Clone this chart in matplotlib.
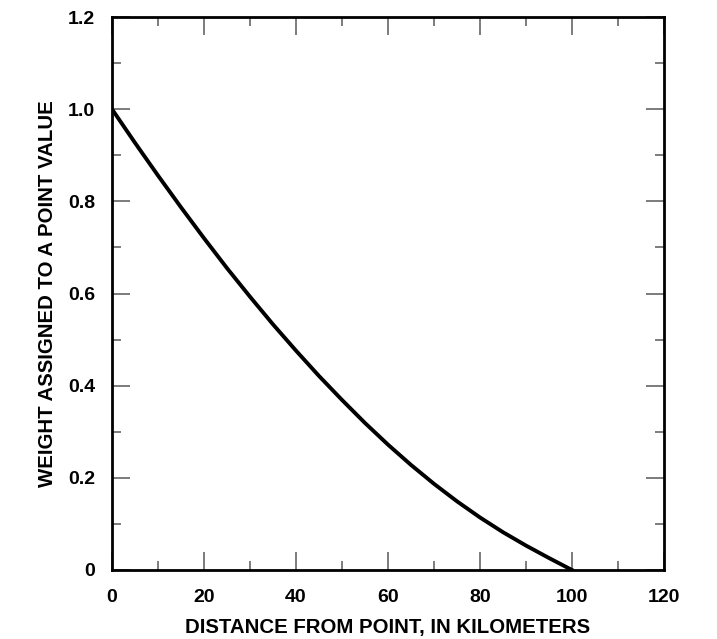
import matplotlib
matplotlib.use("Agg")
import matplotlib.pyplot as plt
from matplotlib.ticker import MultipleLocator

distance_km = [0, 5, 10, 15, 20, 25, 30, 35, 40, 45, 50, 55, 60, 65, 70, 75, 80, 85, 90, 95, 100]
weight = [1.000, 0.927, 0.856, 0.787, 0.720, 0.655, 0.593, 0.533, 0.476, 0.421, 0.369,
          0.319, 0.272, 0.228, 0.187, 0.149, 0.114, 0.082, 0.053, 0.026, 0.000]
x_ticks = [0, 20, 40, 60, 80, 100, 120]
y_ticks = [0, 0.2, 0.4, 0.6, 0.8, 1.0, 1.2]
y_tick_labels = ["0", "0.2", "0.4", "0.6", "0.8", "1.0", "1.2"]

plt.rcParams['font.family'] = ['Liberation Sans', 'DejaVu Sans']
plt.rcParams['font.weight'] = 'bold'

fig = plt.figure(figsize=(7.17, 6.39), dpi=100)
ax = fig.add_axes([112/717, 1-570/639, (664-112)/717, (570-17)/639])

ax.plot(distance_km, weight, color='black', linewidth=2.8, solid_joinstyle='round')

ax.set_xlim(0, 120)
ax.set_ylim(0, 1.2)
ax.set_xticks(x_ticks)
ax.set_yticks(y_ticks)
ax.set_yticklabels(y_tick_labels)
ax.xaxis.set_minor_locator(MultipleLocator(10))
ax.yaxis.set_minor_locator(MultipleLocator(0.1))

ax.tick_params(which='both', direction='in', top=True, right=True, color='#666666', width=1.2)
ax.tick_params(which='major', length=13, labelsize=14)
ax.tick_params(which='minor', length=6.5)
ax.tick_params(axis='x', which='major', pad=14)
ax.tick_params(axis='y', which='major', pad=12)
for lab in ax.get_xticklabels() + ax.get_yticklabels():
    lab.set_fontweight('bold')

for sp in ax.spines.values():
    sp.set_linewidth(2)
    sp.set_color('black')

ax.set_xlabel('DISTANCE FROM POINT, IN KILOMETERS', fontsize=14.7, fontweight='bold', labelpad=8)
ax.set_ylabel('WEIGHT ASSIGNED TO A POINT VALUE', fontsize=14.7, fontweight='bold', labelpad=8)

fig.savefig('out.png', dpi=100)
